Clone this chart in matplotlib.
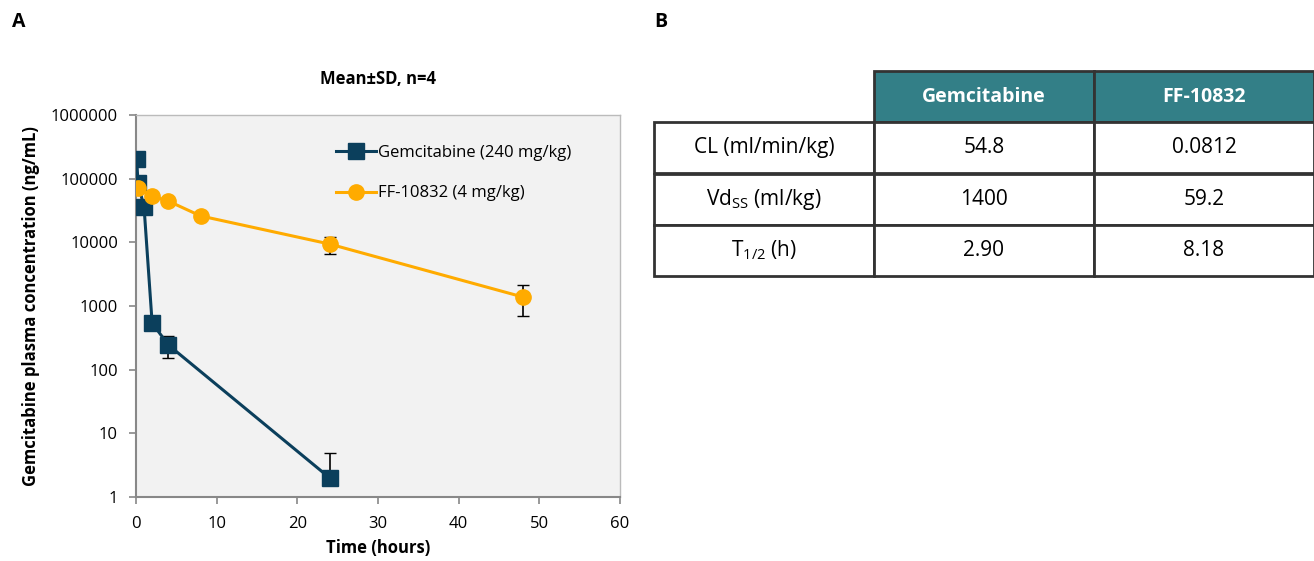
"""
Pharmacokinetics of gemcitabine vs FF-10832: plasma curve (A) and table (B).
"""
import matplotlib
matplotlib.use('Agg')
import matplotlib.pyplot as plt
from matplotlib.patches import Rectangle
from matplotlib.ticker import FixedLocator, NullLocator

plt.rcParams['font.family'] = ['Open Sans', 'DejaVu Sans']
plt.rcParams['mathtext.default'] = 'regular'

# Gemcitabine (240 mg/kg)
gem_time = [0.083, 0.25, 1, 2, 4, 24]
gem_conc = [205000, 85000, 35600, 540, 245, 2.0]
gem_err_lo = [0, 0, 0, 0, 93, 0]
gem_err_hi = [0, 0, 0, 0, 90, 2.9]

# FF-10832 (4 mg/kg)
ff_time = [0.25, 2, 4, 8, 24, 48]
ff_conc = [71000, 53000, 44500, 26000, 9400, 1380]
ff_err_lo = [0, 0, 0, 0, 2900, 690]
ff_err_hi = [0, 0, 0, 0, 2600, 750]

# table
col_labels = ['Gemcitabine', 'FF-10832']
row_labels = ['CL (ml/min/kg)', 'Vd$_{SS}$ (ml/kg)', 'T$_{1/2}$ (h)']
cell_values = [['54.8', '0.0812'],
               ['1400', '59.2'],
               ['2.90', '8.18']]

W, H = 1314, 561
fig = plt.figure(figsize=(W / 100, H / 100), dpi=100)

# ---- panel A
ax = fig.add_axes([136 / W, 1 - 497 / H, (620 - 136) / W, (497 - 115) / H])
ax.set_facecolor('#f2f2f2')
navy = '#0b3f5c'
orange = '#ffab00'

ax.errorbar(gem_time, gem_conc, yerr=[gem_err_lo, gem_err_hi], fmt='none',
            ecolor='black', elinewidth=1.2, capsize=4, zorder=2)
ax.errorbar(ff_time, ff_conc, yerr=[ff_err_lo, ff_err_hi], fmt='none',
            ecolor='black', elinewidth=1.2, capsize=4, zorder=2)
ax.plot(gem_time, gem_conc, color=navy, lw=2.2, marker='s', ms=11,
        label='Gemcitabine (240 mg/kg)', zorder=3)
ax.plot(ff_time, ff_conc, color=orange, lw=2.2, marker='o', ms=11,
        label='FF-10832 (4 mg/kg)', zorder=3)

ax.set_yscale('log')
ax.set_ylim(1, 1000000)
ax.set_xlim(0, 60)
yt = [1, 10, 100, 1000, 10000, 100000, 1000000]
ax.yaxis.set_major_locator(FixedLocator(yt))
ax.yaxis.set_minor_locator(NullLocator())
ax.set_yticklabels([str(v) for v in yt])
ax.set_xticks(range(0, 61, 10))
ax.tick_params(labelsize=12, color='#888888', length=5, width=1.2)
ax.tick_params(axis='x', pad=9)
ax.tick_params(axis='y', pad=8)
for side in ['top', 'right']:
    ax.spines[side].set_color('#bbbbbb')
    ax.spines[side].set_linewidth(1)
for side in ['left', 'bottom']:
    ax.spines[side].set_color('#888888')
    ax.spines[side].set_linewidth(1.5)

ax.set_xlabel('Time (hours)', fontsize=12, fontweight='bold', labelpad=5)
ax.set_ylabel('Gemcitabine plasma concentration (ng/mL)', fontsize=12,
              fontweight='bold', labelpad=8)
ax.set_title('Mean±SD, n=4', fontsize=12, fontweight='bold', pad=22)

ax.legend(loc='upper right', bbox_to_anchor=(0.93, 0.96), frameon=False,
          fontsize=12, handlelength=2.4, handletextpad=0.1, labelspacing=1.45)

fig.text(12 / W, 1 - 22 / H, 'A', fontsize=14, fontweight='bold', va='center')
fig.text(654 / W, 1 - 22 / H, 'B', fontsize=14, fontweight='bold', va='center')

# ---- panel B
tx = fig.add_axes([654 / W, 1 - 276 / H, (1314 - 654) / W, (276 - 71) / H])
tx.set_xlim(0, 3)
tx.set_ylim(len(row_labels) + 1, 0)
tx.axis('off')
teal = '#337f87'
edge = '#333333'
for j, lab in enumerate(col_labels):
    tx.add_patch(Rectangle((j + 1, 0), 1, 1, facecolor=teal, edgecolor=edge,
                           lw=2, clip_on=False))
    tx.text(j + 1.5, 0.5, lab, color='white', fontsize=14, fontweight='bold',
            ha='center', va='center')
for i, lab in enumerate(row_labels):
    tx.add_patch(Rectangle((0, i + 1), 1, 1, facecolor='white',
                           edgecolor=edge, lw=2, clip_on=False))
    tx.text(0.5, i + 1.5, lab, fontsize=15, ha='center', va='center')
    for j, val in enumerate(cell_values[i]):
        tx.add_patch(Rectangle((j + 1, i + 1), 1, 1, facecolor='white',
                               edgecolor=edge, lw=2, clip_on=False))
        tx.text(j + 1.5, i + 1.5, val, fontsize=15, ha='center', va='center')

fig.savefig('out.png', dpi=100)
